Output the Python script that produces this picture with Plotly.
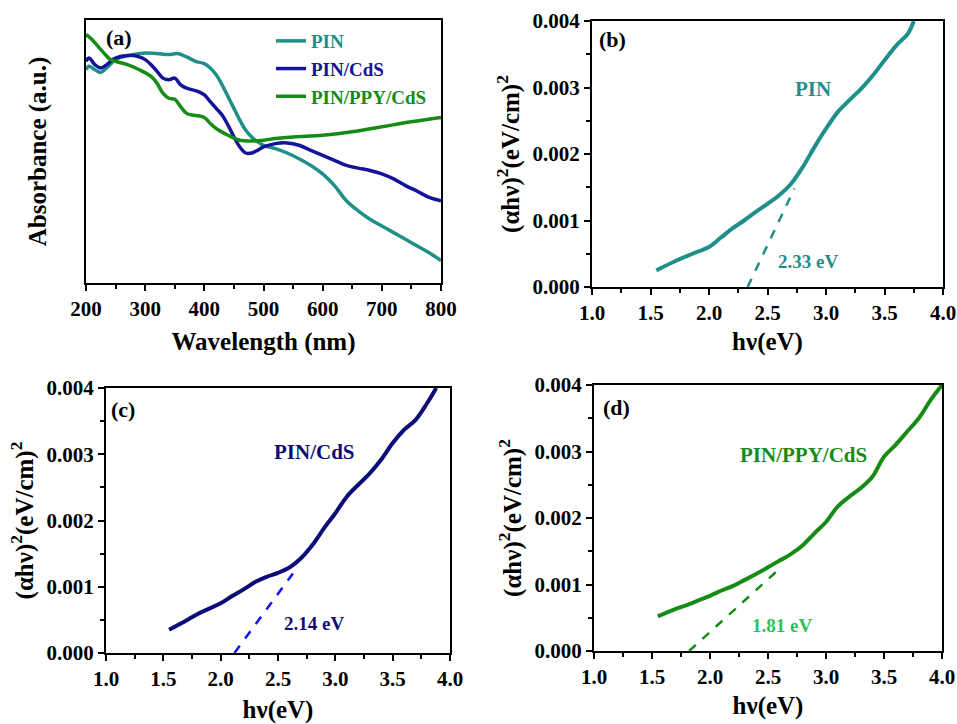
import plotly.graph_objects as go

# ---------------- data ----------------
wl_pin = [200, 205, 215, 225, 235, 250, 270, 300, 320, 340, 355, 370, 385, 400, 410, 420, 430, 440, 450,
          460, 470, 480, 490, 500, 520, 540, 560, 580, 600, 620, 640, 660, 680, 700, 720, 740, 760, 780, 800]
abs_pin_px = [210, 200, 210, 218, 205, 180, 168, 160, 162, 165, 162, 172, 185, 192, 205, 225, 255, 290, 325,
              360, 390, 410, 425, 435, 445, 458, 475, 495, 520, 555, 600, 630, 655, 675, 695, 715, 735, 755, 778]

wl_cds = [200, 205, 215, 225, 235, 245, 260, 280, 290, 300, 310, 320, 330, 340, 350, 360, 370, 390, 400, 410,
          420, 430, 440, 450, 460, 470, 480, 490, 500, 520, 540, 560, 580, 600, 620, 640, 660, 680, 700,
          720, 740, 760, 780, 800]
abs_cds_px = [185, 175, 195, 205, 195, 180, 170, 168, 172, 180, 195, 215, 235, 240, 235, 255, 265, 275, 285, 305,
              325, 345, 375, 410, 440, 458, 458, 450, 440, 430, 428, 435, 450, 465, 480, 495, 503, 510, 520,
              535, 555, 572, 590, 600]

wl_ppy = [200, 210, 220, 230, 240, 250, 270, 290, 310, 320, 330, 340, 350, 360, 370, 380, 390, 400, 410, 420,
          440, 460, 480, 500, 520, 550, 600, 650, 700, 750, 800]
abs_ppy_px = [105, 120, 140, 160, 178, 185, 195, 210, 230, 250, 280, 295, 298, 320, 340, 345, 347, 352, 370, 385,
              405, 420, 422, 420, 415, 410, 405, 395, 380, 365, 352]

# read-off values -> arbitrary absorbance units (0..1)
abs_pin = [(845 - v) / 783 for v in abs_pin_px]
abs_cds = [(845 - v) / 783 for v in abs_cds_px]
abs_ppy = [(845 - v) / 783 for v in abs_ppy_px]

hv_b = [1.55, 1.7, 1.9, 2.0, 2.1, 2.2, 2.3, 2.4, 2.5, 2.6, 2.7, 2.8, 2.9, 3.0, 3.1, 3.2, 3.3, 3.4, 3.5, 3.6, 3.7, 3.75]
tauc_b = [0.00025, 0.00038, 0.00053, 0.0006, 0.00074, 0.00088, 0.001, 0.00113, 0.00125, 0.00138, 0.00155,
          0.0018, 0.0021, 0.00238, 0.00263, 0.00281, 0.00298, 0.00318, 0.00341, 0.00363, 0.00381, 0.004]
fit_b_x = [2.33, 2.73]
fit_b_y = [0.0, 0.00148]

hv_c = [1.55, 1.7, 1.8, 1.9, 2.0, 2.1, 2.2, 2.3, 2.4, 2.5, 2.6, 2.7, 2.8, 2.9, 3.0, 3.1, 3.2, 3.3, 3.4, 3.5,
        3.6, 3.7, 3.8, 3.88]
tauc_c = [0.00035, 0.00049, 0.00059, 0.00067, 0.00075, 0.00086, 0.00096, 0.00107, 0.00115, 0.00121, 0.00129,
          0.00143, 0.00163, 0.00188, 0.00211, 0.00236, 0.00254, 0.00271, 0.00292, 0.00317, 0.00337, 0.00352,
          0.00377, 0.004]
fit_c_x = [2.12, 2.63]
fit_c_y = [0.0, 0.0012]

hv_d = [1.55, 1.7, 1.8, 1.9, 2.0, 2.1, 2.2, 2.3, 2.4, 2.5, 2.6, 2.7, 2.8, 2.9, 3.0, 3.1, 3.2, 3.3, 3.4, 3.5,
        3.6, 3.7, 3.8, 3.9, 4.0]
tauc_d = [0.00052, 0.00063, 0.00069, 0.00076, 0.00083, 0.00091, 0.00098, 0.00107, 0.00116, 0.00126, 0.00136,
          0.00146, 0.00159, 0.00177, 0.00194, 0.00217, 0.00232, 0.00245, 0.00262, 0.00292, 0.0031, 0.0033,
          0.0035, 0.00377, 0.004]
fit_d_x = [1.82, 2.62]
fit_d_y = [0.0, 0.00127]

x_ticks_a = [200, 300, 400, 500, 600, 700, 800]
x_ticks_e = [1.0, 1.5, 2.0, 2.5, 3.0, 3.5, 4.0]
y_ticks_e = [0.000, 0.001, 0.002, 0.003, 0.004]

TEAL = "#1f8f8a"
BLUE = "#14149a"
NAVY = "#0c0c78"
DBLUE = "#1010ff"
GREEN = "#168c16"
LGREEN = "#2fbf5a"
FONT = "Liberation Serif, Times New Roman, serif"

fig = go.Figure()

# panel (a)
fig.add_trace(go.Scatter(x=wl_pin, y=abs_pin, mode="lines", line=dict(color=TEAL, width=3.5, shape="spline"),
                         name=f"<span style='color:{TEAL}'><b>PIN</b></span>", xaxis="x", yaxis="y"))
fig.add_trace(go.Scatter(x=wl_cds, y=abs_cds, mode="lines", line=dict(color=BLUE, width=3.5, shape="spline"),
                         name=f"<span style='color:{BLUE}'><b>PIN/CdS</b></span>", xaxis="x", yaxis="y"))
fig.add_trace(go.Scatter(x=wl_ppy, y=abs_ppy, mode="lines", line=dict(color=GREEN, width=3.5, shape="spline"),
                         name=f"<span style='color:{GREEN}'><b>PIN/PPY/CdS</b></span>", xaxis="x", yaxis="y"))

# panel (b)
fig.add_trace(go.Scatter(x=hv_b, y=tauc_b, mode="lines", line=dict(color=TEAL, width=4, shape="spline"),
                         showlegend=False, xaxis="x2", yaxis="y2"))
fig.add_trace(go.Scatter(x=fit_b_x, y=fit_b_y, mode="lines", line=dict(color=TEAL, width=2.5, dash="dash"),
                         showlegend=False, xaxis="x2", yaxis="y2"))
# panel (c)
fig.add_trace(go.Scatter(x=hv_c, y=tauc_c, mode="lines", line=dict(color=NAVY, width=4, shape="spline"),
                         showlegend=False, xaxis="x3", yaxis="y3"))
fig.add_trace(go.Scatter(x=fit_c_x, y=fit_c_y, mode="lines", line=dict(color=DBLUE, width=2.5, dash="dash"),
                         showlegend=False, xaxis="x3", yaxis="y3"))
# panel (d)
fig.add_trace(go.Scatter(x=hv_d, y=tauc_d, mode="lines", line=dict(color=GREEN, width=4, shape="spline"),
                         showlegend=False, xaxis="x4", yaxis="y4"))
fig.add_trace(go.Scatter(x=fit_d_x, y=fit_d_y, mode="lines", line=dict(color=GREEN, width=2.5, dash="dash"),
                         showlegend=False, xaxis="x4", yaxis="y4"))

W, H = 957, 724
def dx(a, b):
    return [a / W, b / W]
def dy(top, bottom):
    return [1 - bottom / H, 1 - top / H]

ytitle = "<b>(αhν)<sup>2</sup>(eV/cm)<sup>2</sup></b>"
xtitle = "<b>hν(eV)</b>"
minor_x_e = dict(dtick=0.25, ticks="outside", ticklen=4, tickwidth=2, tickcolor="black")
minor_y_e = dict(dtick=0.0005, ticks="outside", ticklen=4, tickwidth=2, tickcolor="black")

fig.update_layout(
    width=W, height=H, margin=dict(l=0, r=0, t=0, b=0, autoexpand=False),
    paper_bgcolor="white", plot_bgcolor="white",
    font=dict(family=FONT, size=20, color="black"),
    showlegend=True,
    legend=dict(x=271 / W, y=1 - 22 / H, xanchor="left", yanchor="top", bgcolor="rgba(0,0,0,0)",
                font=dict(family=FONT, size=19), itemwidth=30, tracegroupgap=0),
    xaxis=dict(domain=dx(86, 441), range=[200, 800], tickvals=x_ticks_a,
               ticktext=[f"<b>{v}</b>" for v in x_ticks_a],
               minor=dict(dtick=50, ticks="outside", ticklen=4, tickwidth=2, tickcolor="black"),
               title=dict(text="<b>Wavelength (nm)</b>", standoff=12), anchor="y"),
    yaxis=dict(domain=dy(20, 283), range=[0, 1], showticklabels=False, ticks="",
               title=dict(text="<b>Absorbance (a.u.)</b>", standoff=30), anchor="x"),
    xaxis2=dict(domain=dx(592, 943), range=[1.0, 4.0], tickvals=x_ticks_e,
                ticktext=[f"<b>{v:.1f}</b>" for v in x_ticks_e], minor=minor_x_e,
                title=dict(text=xtitle, standoff=8), anchor="y2"),
    yaxis2=dict(domain=dy(21, 287), range=[0, 0.004], tickvals=y_ticks_e,
                ticktext=[f"<b>{v:.3f}</b>" for v in y_ticks_e], minor=minor_y_e,
                title=dict(text=ytitle, standoff=6), anchor="x2"),
    xaxis3=dict(domain=dx(106, 450), range=[1.0, 4.0], tickvals=x_ticks_e,
                ticktext=[f"<b>{v:.1f}</b>" for v in x_ticks_e], minor=minor_x_e,
                title=dict(text=xtitle, standoff=14), anchor="y3"),
    yaxis3=dict(domain=dy(388, 653), range=[0, 0.004], tickvals=y_ticks_e,
                ticktext=[f"<b>{v:.3f}</b>" for v in y_ticks_e], minor=minor_y_e,
                title=dict(text=ytitle, standoff=6), anchor="x3"),
    xaxis4=dict(domain=dx(594, 942), range=[1.0, 4.0], tickvals=x_ticks_e,
                ticktext=[f"<b>{v:.1f}</b>" for v in x_ticks_e], minor=minor_x_e,
                title=dict(text=xtitle, standoff=8), anchor="y4"),
    yaxis4=dict(domain=dy(385, 651), range=[0, 0.004], tickvals=y_ticks_e,
                ticktext=[f"<b>{v:.3f}</b>" for v in y_ticks_e], minor=minor_y_e,
                title=dict(text=ytitle, standoff=6), anchor="x4"),
)

fig.update_xaxes(showline=True, linecolor="black", linewidth=2, mirror=True, ticks="outside",
                 ticklen=6, tickwidth=2, tickcolor="black", showgrid=False, zeroline=False,
                 automargin=False,
                 tickfont=dict(family=FONT, size=21, color="black"),
                 title_font=dict(family=FONT, size=25, color="black"))
fig.update_yaxes(showline=True, linecolor="black", linewidth=2, mirror=True,
                 ticklen=6, tickwidth=2, tickcolor="black", showgrid=False, zeroline=False,
                 automargin=False,
                 tickfont=dict(family=FONT, size=21, color="black"),
                 title_font=dict(family=FONT, size=25, color="black"))
for ax in ["yaxis2", "yaxis3", "yaxis4"]:
    fig.layout[ax].ticks = "outside"

def ann(text, x, y, xref, yref, color, size, xanchor="center"):
    fig.add_annotation(text=f"<b>{text}</b>", x=x, y=y, xref=xref, yref=yref, showarrow=False,
                       font=dict(family=FONT, size=size, color=color), xanchor=xanchor, yanchor="middle")

# panel labels
ann("(a)", 0.05, 0.935, "x domain", "y domain", "black", 22, "left")
ann("(b)", 0.014, 0.93, "x2 domain", "y2 domain", "black", 22, "left")
ann("(c)", 0.01, 0.917, "x3 domain", "y3 domain", "black", 22, "left")
ann("(d)", 0.02, 0.914, "x4 domain", "y4 domain", "black", 22, "left")

# curve and gap labels
ann("PIN", 2.89, 0.00298, "x2", "y2", TEAL, 21)
ann("2.33 eV", 2.85, 0.00038, "x2", "y2", TEAL, 19)
ann("PIN/CdS", 2.82, 0.00303, "x3", "y3", NAVY, 21)
ann("2.14 eV", 2.81, 0.00044, "x3", "y3", NAVY, 19)
ann("PIN/PPY/CdS", 2.81, 0.00295, "x4", "y4", GREEN, 21)
ann("1.81 eV", 2.62, 0.00039, "x4", "y4", LGREEN, 19)

fig.write_html("out.html", post_script="document.body.style.margin='0';")
